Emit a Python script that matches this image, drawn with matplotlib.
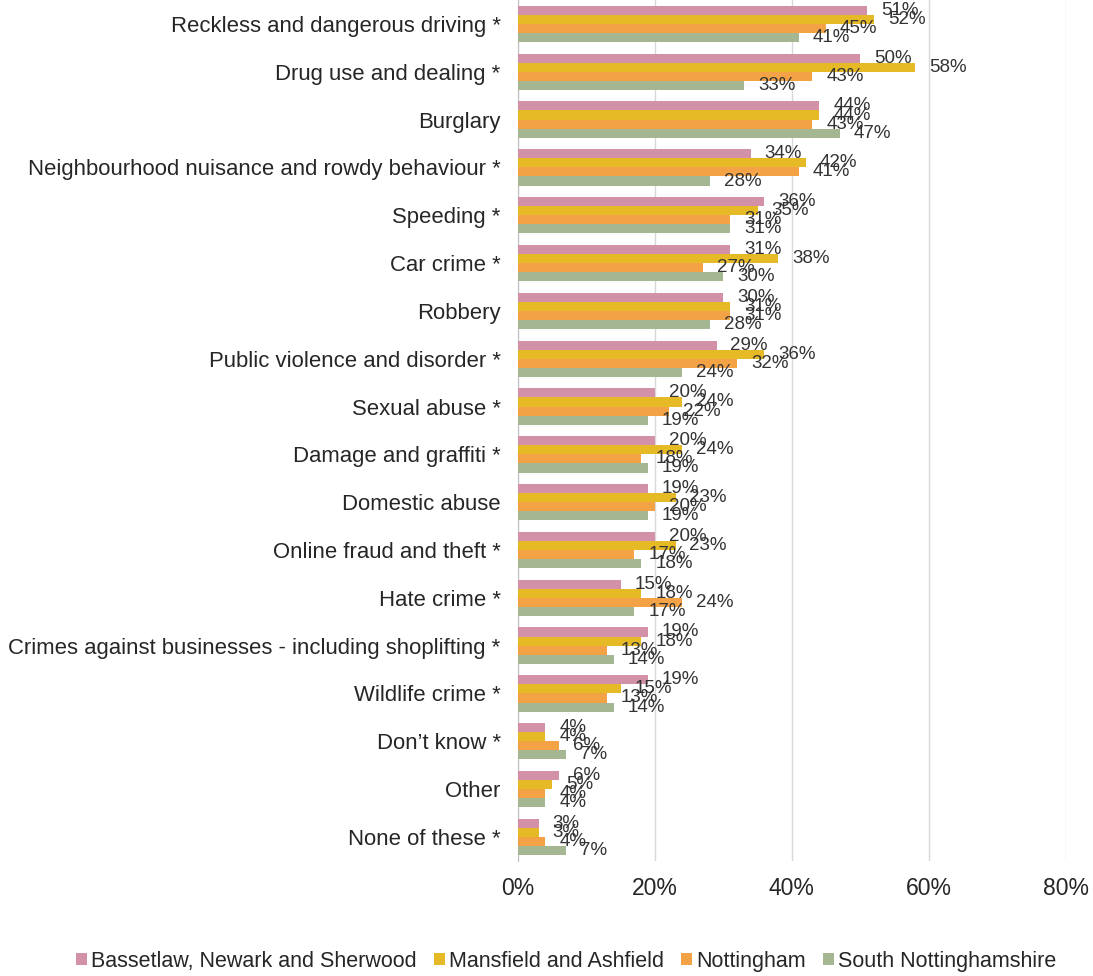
import numpy as np
import matplotlib.pyplot as plt
from matplotlib.ticker import PercentFormatter

plt.rcParams['font.family'] = ['Liberation Sans', 'DejaVu Sans']

categories = [
    "Reckless and dangerous driving *",
    "Drug use and dealing *",
    "Burglary",
    "Neighbourhood nuisance and rowdy behaviour *",
    "Speeding *",
    "Car crime *",
    "Robbery",
    "Public violence and disorder *",
    "Sexual abuse *",
    "Damage and graffiti *",
    "Domestic abuse",
    "Online fraud and theft *",
    "Hate crime *",
    "Crimes against businesses - including shoplifting *",
    "Wildlife crime *",
    "Don\u2019t know *",
    "Other",
    "None of these *",
]

bassetlaw = [51, 50, 44, 34, 36, 31, 30, 29, 20, 20, 19, 20, 15, 19, 19, 4, 6, 3]
mansfield = [52, 58, 44, 42, 35, 38, 31, 36, 24, 24, 23, 23, 18, 18, 15, 4, 5, 3]
nottingham = [45, 43, 43, 41, 31, 27, 31, 32, 22, 18, 20, 17, 24, 13, 13, 6, 4, 4]
south_notts = [41, 33, 47, 28, 31, 30, 28, 24, 19, 19, 19, 18, 17, 14, 14, 7, 4, 7]

series = [
    ("Bassetlaw, Newark and Sherwood", bassetlaw, "#D391A7"),
    ("Mansfield and Ashfield", mansfield, "#E6B927"),
    ("Nottingham", nottingham, "#F3A246"),
    ("South Nottinghamshire", south_notts, "#A5B692"),
]

fig = plt.figure(figsize=(10.93, 9.76), dpi=100)
ax = fig.add_axes([0.474, 0.118, 0.501, 0.882])

y = np.arange(len(categories))
h = 0.19
for i, (name, vals, col) in enumerate(series):
    pos = y - 1.5 * h + i * h
    ax.barh(pos, vals, height=h, color=col, label=name, zorder=3)
    for p, v in zip(pos, vals):
        ax.annotate(f"{v}%", (v, p), xytext=(10, 0), textcoords="offset points",
                    ha="left", va="center", fontsize=13.5, color="#333333", zorder=4)

ax.set_xlim(0, 80)
ax.set_ylim(len(categories) - 0.5, -0.5)
ax.set_yticks(y)
ax.set_yticklabels(categories, fontsize=15.9, color="#262626")
ax.set_xticks([0, 20, 40, 60, 80])
ax.xaxis.set_major_formatter(PercentFormatter(decimals=0))
ax.tick_params(axis='x', labelsize=16.5, colors="#262626", length=0, pad=12)
ax.tick_params(axis='y', length=0, pad=12.5)
ax.grid(axis='x', color="#D9D9D9", linewidth=1, zorder=0)
for s in ["top", "right", "bottom"]:
    ax.spines[s].set_visible(False)
ax.spines["left"].set_color("#BFBFBF")

fig.legend(loc="center", bbox_to_anchor=(0.518, 0.015), ncol=4, frameon=False,
           fontsize=15.5, handlelength=0.5, handleheight=0.5, handletextpad=0.2,
           columnspacing=0.8, labelcolor="#262626")

fig.savefig("out.png", dpi=100)
